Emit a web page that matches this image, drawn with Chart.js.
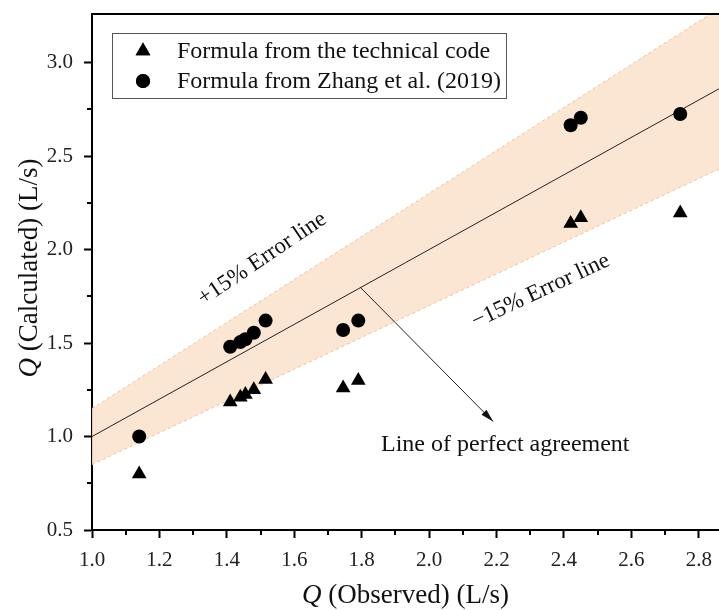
<!DOCTYPE html>
<html>
<head>
<meta charset="utf-8">
<script src="https://cdn.jsdelivr.net/npm/chart.js@4.4.0/dist/chart.umd.min.js"></script>
<style>
  html, body { margin: 0; padding: 0; background: #fff; }
  #wrap { width: 719px; height: 610px; }
</style>
</head>
<body>
<div id="wrap"><canvas id="qChart" width="719" height="610"></canvas></div>
<script>
// observed discharge (L/s)
const observed = [1.14, 1.41, 1.44, 1.455, 1.48, 1.515, 1.745, 1.79, 2.42, 2.45, 2.745];
// calculated with the technical code formula
const codeCalc = [0.80, 1.185, 1.21, 1.225, 1.25, 1.305, 1.26, 1.30, 2.14, 2.17, 2.195];
// calculated with Zhang et al. (2019)
const zhangCalc = [1.00, 1.48, 1.505, 1.52, 1.555, 1.62, 1.57, 1.62, 2.665, 2.705, 2.725];

// reference lines (y = x, +15%, -15%)
const refX = [1.0, 2.86];
const perfectY = [1.0, 2.86];
const upperY = [1.15, 3.289];
const lowerY = [0.85, 2.431];

const xTicks = [1.0, 1.2, 1.4, 1.6, 1.8, 2.0, 2.2, 2.4, 2.6, 2.8];
const xMinor = [1.1, 1.3, 1.5, 1.7, 1.9, 2.1, 2.3, 2.5, 2.7];
const yTicks = [0.5, 1.0, 1.5, 2.0, 2.5, 3.0];
const yMinor = [0.75, 1.25, 1.75, 2.25, 2.75];

const legendLabels = ['Formula from the technical code', 'Formula from Zhang et al. (2019)'];

const serif = '"Liberation Serif", "DejaVu Serif", serif';

const toPts = (xs, ys) => xs.map((x, i) => ({ x: x, y: ys[i] }));

// extra drawing: minor ticks, top frame, annotations, legend, axis titles
const decorations = {
  id: 'decorations',
  afterDraw(chart) {
    const ctx = chart.ctx;
    const area = chart.chartArea;
    const xs = chart.scales.x, ys = chart.scales.y;
    ctx.save();

    // top frame line
    ctx.strokeStyle = '#000';
    ctx.lineWidth = 2;
    ctx.beginPath();
    ctx.moveTo(area.left, area.top);
    ctx.lineTo(area.right, area.top);
    ctx.stroke();

    // minor ticks
    ctx.beginPath();
    xMinor.forEach(v => {
      const px = Math.round(xs.getPixelForValue(v));
      ctx.moveTo(px, area.bottom);
      ctx.lineTo(px, area.bottom + 5);
    });
    yMinor.forEach(v => {
      const py = Math.round(ys.getPixelForValue(v));
      ctx.moveTo(area.left, py);
      ctx.lineTo(area.left - 5, py);
    });
    ctx.stroke();

    // arrow to the line of perfect agreement
    const ax1 = xs.getPixelForValue(1.795), ay1 = ys.getPixelForValue(1.80);
    const ax2 = xs.getPixelForValue(2.19), ay2 = ys.getPixelForValue(1.08);
    ctx.strokeStyle = '#222';
    ctx.lineWidth = 1;
    ctx.beginPath();
    ctx.moveTo(ax1, ay1);
    ctx.lineTo(ax2, ay2);
    ctx.stroke();
    const ang = Math.atan2(ay2 - ay1, ax2 - ax1);
    ctx.fillStyle = '#111';
    ctx.beginPath();
    ctx.moveTo(ax2, ay2);
    ctx.lineTo(ax2 - 13 * Math.cos(ang) + 3.5 * Math.sin(ang), ay2 - 13 * Math.sin(ang) - 3.5 * Math.cos(ang));
    ctx.lineTo(ax2 - 13 * Math.cos(ang) - 3.5 * Math.sin(ang), ay2 - 13 * Math.sin(ang) + 3.5 * Math.cos(ang));
    ctx.closePath();
    ctx.fill();

    // text annotations
    ctx.fillStyle = '#111';
    ctx.font = '23px ' + serif;
    ctx.textAlign = 'center';
    ctx.textBaseline = 'middle';
    const label = (txt, x, y, deg) => {
      ctx.save();
      ctx.translate(xs.getPixelForValue(x), ys.getPixelForValue(y));
      ctx.rotate(deg * Math.PI / 180);
      ctx.fillText(txt, 0, 0);
      ctx.restore();
    };
    label('+15% Error line', 1.505, 1.95, -34);
    label('\u221215% Error line', 2.331, 1.778, -25);
    ctx.font = '24px ' + serif;
    label('Line of perfect agreement', 2.226, 0.955, 0);

    // legend box
    ctx.strokeStyle = '#555';
    ctx.lineWidth = 1;
    ctx.fillStyle = '#fff';
    ctx.fillRect(112.5, 33.5, 394, 65);
    ctx.strokeRect(112.5, 33.5, 394, 65);
    [2, 3].forEach((di, i) => {
      const ds = chart.data.datasets[di];
      const yy = 51 + i * 30;
      ctx.fillStyle = '#000';
      ctx.strokeStyle = '#000';
      Chart.helpers.drawPoint(ctx, { pointStyle: ds.pointStyle, radius: ds.pointRadius, rotation: 0, borderWidth: 0 }, 143, yy);
      ctx.fill();
      ctx.fillStyle = '#111';
      ctx.textAlign = 'left';
      ctx.font = '24px ' + serif;
      ctx.fillText(legendLabels[i], 177, yy + 1);
    });

    // axis titles with italic Q
    const axisTitle = (rest, cx, cy, rot) => {
      ctx.save();
      ctx.translate(cx, cy);
      ctx.rotate(rot);
      ctx.fillStyle = '#111';
      ctx.textBaseline = 'middle';
      ctx.textAlign = 'left';
      ctx.font = 'italic 27px ' + serif;
      const wq = ctx.measureText('Q').width;
      ctx.font = '27px ' + serif;
      const wr = ctx.measureText(rest).width;
      const start = -(wq + wr) / 2;
      ctx.font = 'italic 27px ' + serif;
      ctx.fillText('Q', start, 0);
      ctx.font = '27px ' + serif;
      ctx.fillText(rest, start + wq, 0);
      ctx.restore();
    };
    axisTitle(' (Observed) (L/s)', (area.left + area.right) / 2, 596, 0);
    axisTitle(' (Calculated) (L/s)', 30, 268, -Math.PI / 2);

    ctx.restore();
  }
};

document.addEventListener('DOMContentLoaded', function () {
  const ctx = document.getElementById('qChart').getContext('2d');

  new Chart(ctx, {
    type: 'scatter',
    data: {
      datasets: [
        {
          label: '+15%',
          data: toPts(refX, upperY),
          showLine: true,
          borderColor: '#f6bf9a',
          borderWidth: 1,
          borderDash: [3, 3],
          backgroundColor: 'rgba(251, 226, 206, 0.9)',
          fill: '+1',
          pointRadius: 0,
          order: 3
        },
        {
          label: '-15%',
          data: toPts(refX, lowerY),
          showLine: true,
          borderColor: '#f6bf9a',
          borderWidth: 1,
          borderDash: [3, 3],
          fill: false,
          pointRadius: 0,
          order: 3
        },
        {
          label: legendLabels[0],
          data: toPts(observed, codeCalc),
          pointStyle: 'triangle',
          pointRadius: 8.5,
          backgroundColor: '#000',
          borderColor: '#000',
          borderWidth: 0,
          order: 1
        },
        {
          label: legendLabels[1],
          data: toPts(observed, zhangCalc),
          pointStyle: 'circle',
          pointRadius: 7,
          backgroundColor: '#000',
          borderColor: '#000',
          borderWidth: 0,
          order: 1
        },
        {
          label: 'Line of perfect agreement',
          data: toPts(refX, perfectY),
          showLine: true,
          borderColor: '#222',
          borderWidth: 1,
          fill: false,
          pointRadius: 0,
          order: 2
        }
      ]
    },
    options: {
      responsive: false,
      animation: false,
      layout: { autoPadding: false, padding: { top: 14, right: 0, left: 0, bottom: 0 } },
      plugins: {
        legend: { display: false },
        tooltip: { enabled: false },
        filler: { drawTime: 'beforeDatasetsDraw' }
      },
      scales: {
        x: {
          type: 'linear',
          min: 1.0,
          max: 2.86,
          afterFit: s => { s.height = 80; s.paddingLeft = 0; s.paddingRight = 0; },
          afterBuildTicks: s => { s.ticks = xTicks.map(v => ({ value: v })); },
          border: { display: true, color: '#000', width: 2 },
          grid: { drawOnChartArea: false, drawTicks: true, tickLength: 8, tickWidth: 2, tickColor: '#000' },
          ticks: {
            color: '#222',
            padding: 10,
            font: { family: serif, size: 21 },
            maxRotation: 0,
            callback: v => Number(v).toFixed(1)
          }
        },
        y: {
          type: 'linear',
          min: 0.5,
          max: 3.26,
          afterFit: s => { s.width = 92; s.paddingTop = 0; s.paddingBottom = 0; },
          afterBuildTicks: s => { s.ticks = yTicks.map(v => ({ value: v })); },
          border: { display: true, color: '#000', width: 2 },
          grid: { drawOnChartArea: false, drawTicks: true, tickLength: 8, tickWidth: 2, tickColor: '#000' },
          ticks: {
            color: '#222',
            padding: 11,
            font: { family: serif, size: 21 },
            callback: v => Number(v).toFixed(1)
          }
        }
      }
    },
    plugins: [decorations]
  });
});
</script>
</body>
</html>
